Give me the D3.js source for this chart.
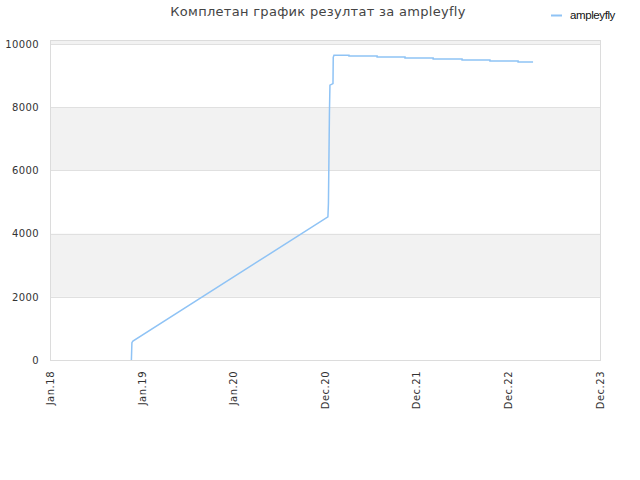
<!DOCTYPE html>
<html>
<head>
<meta charset="utf-8">
<script src="https://cdn.jsdelivr.net/npm/d3@7"></script>
<style>
  body { margin: 0; background: #fff; }
  svg { font-family: "DejaVu Sans", sans-serif; }
</style>
</head>
<body>
<div class="chart"></div>
<script>
// Series: dates and scores
const dates = [
  '2018-11-27', '2018-11-29', '2018-12-03', '2021-01-10', '2021-01-12',
  '2021-01-16', '2021-01-18', '2021-01-30', '2021-01-31', '2021-02-03',
  '2021-04-03', '2021-04-03', '2021-07-23', '2021-07-23', '2021-11-10',
  '2021-11-10', '2022-03-01', '2022-03-01', '2022-06-23', '2022-06-23',
  '2022-10-11', '2022-10-11', '2023-01-30', '2023-01-30', '2023-03-30',
];
const scores = [
  0, 550, 600, 4530, 4950,
  7830, 8700, 8750, 9580, 9650,
  9650, 9620, 9620, 9590, 9590,
  9560, 9560, 9525, 9525, 9495,
  9495, 9465, 9465, 9430, 9430,
];

// Axis ticks
const xTickDates = ['2018-01-10', '2019-01-06', '2020-01-02', '2020-12-28', '2021-12-25', '2022-12-22', '2023-12-19'];
const yTicks = [0, 2000, 4000, 6000, 8000, 10000];
const bands = [[2000, 4000], [6000, 8000], [10000, 10130]];

const seriesName = 'ampleyfly';
const title = 'Комплетан график резултат за ampleyfly';

const width = 640;
const height = 480;
const margin = { top: 40, right: 40, bottom: 120, left: 50 };

const parse = d3.timeParse('%Y-%m-%d');
const data = dates.map((d, i) => ({ date: parse(d), value: scores[i] }));
const tickDates = xTickDates.map(parse);

const svg = d3.select('.chart')
  .append('svg')
  .attr('width', width)
  .attr('height', height);

const x = d3.scaleTime()
  .domain([tickDates[0], tickDates[tickDates.length - 1]])
  .range([margin.left, width - margin.right]);

const y = d3.scaleLinear()
  .domain([0, 10130])
  .range([height - margin.bottom, margin.top]);

// grey bands
svg.selectAll('rect.band')
  .data(bands)
  .enter()
  .append('rect')
  .attr('class', 'band')
  .attr('x', margin.left)
  .attr('width', width - margin.left - margin.right)
  .attr('y', d => y(d[1]))
  .attr('height', d => y(d[0]) - y(d[1]))
  .attr('fill', '#f2f2f2');

// grid lines
svg.selectAll('line.grid')
  .data(yTicks)
  .enter()
  .append('line')
  .attr('x1', margin.left)
  .attr('x2', width - margin.right)
  .attr('y1', d => Math.round(y(d)) + 0.5)
  .attr('y2', d => Math.round(y(d)) + 0.5)
  .attr('stroke', '#e0e0e0');

// plot frame
svg.append('rect')
  .attr('x', margin.left + 0.5)
  .attr('y', margin.top + 0.5)
  .attr('width', width - margin.left - margin.right)
  .attr('height', height - margin.top - margin.bottom)
  .attr('fill', 'none')
  .attr('stroke', '#dcdcdc');

// y axis labels
const yAxis = svg.append('g')
  .attr('transform', `translate(${margin.left},0)`)
  .call(d3.axisLeft(y).tickValues(yTicks).tickFormat(d3.format('d')).tickSize(0).tickPadding(11));
yAxis.select('.domain').remove();
yAxis.selectAll('text')
  .attr('font-size', 10)
  .attr('letter-spacing', 0.4)
  .attr('font-family', '"DejaVu Sans", sans-serif')
  .attr('fill', '#333');

// x axis labels
const xAxis = svg.append('g')
  .attr('transform', `translate(0,${height - margin.bottom})`)
  .call(d3.axisBottom(x).tickValues(tickDates).tickFormat(d3.timeFormat('%b.%y')).tickSize(0));
xAxis.select('.domain').remove();
xAxis.selectAll('text')
  .attr('font-size', 10)
  .attr('letter-spacing', 0.5)
  .attr('font-family', '"DejaVu Sans", sans-serif')
  .attr('fill', '#333')
  .attr('text-anchor', 'end')
  .attr('dy', '0.35em')
  .attr('transform', 'translate(0,11) rotate(-90)')
  .attr('x', 0)
  .attr('y', 0);

// the line
const line = d3.line()
  .x(d => x(d.date))
  .y(d => y(d.value));

svg.append('path')
  .datum(data)
  .attr('d', line)
  .attr('fill', 'none')
  .attr('stroke', '#8fc3f5')
  .attr('stroke-width', 1.5);

// title
svg.append('text')
  .attr('x', 318)
  .attr('y', 16)
  .attr('text-anchor', 'middle')
  .attr('font-size', 13)
  .attr('letter-spacing', 0.3)
  .attr('fill', '#444')
  .text(title);

// legend
svg.append('line')
  .attr('x1', 551)
  .attr('x2', 562)
  .attr('y1', 15.5)
  .attr('y2', 15.5)
  .attr('stroke', '#8fc3f5')
  .attr('stroke-width', 2);

svg.append('text')
  .attr('x', 570)
  .attr('y', 19)
  .attr('font-size', 11.5)
  .attr('font-family', '"Liberation Sans", sans-serif')
  .attr('letter-spacing', -0.4)
  .attr('fill', '#111')
  .text(seriesName);
</script>
</body>
</html>
